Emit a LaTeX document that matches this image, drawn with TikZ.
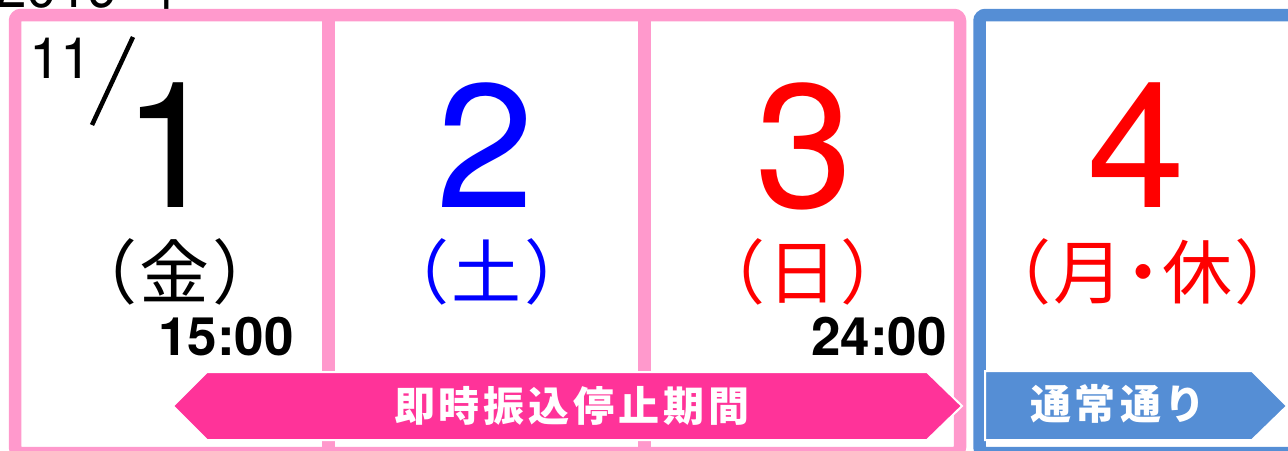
\documentclass[tikz,border=0pt]{standalone}
\usepackage{fontspec}
\setmainfont{TeX Gyre Heros}
\newfontfamily\jpfont[RawFeature={+palt}]{Noto Sans CJK JP}
\newfontfamily\bandfont{Noto Sans CJK JP}
\usetikzlibrary{positioning}
\definecolor{framepink}{HTML}{FF99CC}
\definecolor{arrowpink}{HTML}{FF3399}
\definecolor{calblue}{HTML}{558ED5}
\definecolor{dayblue}{HTML}{0000FF}
\definecolor{dayred}{HTML}{FF0000}
\newcommand{\pgap}{\hspace{5pt}}
\newcommand{\lgap}{\hspace{4pt}}

\begin{document}
\begin{tikzpicture}[x=1pt,y=-1pt,
	frame/.style={line width=12.5pt,rounded corners=6pt},
	divider/.style={line width=13pt,framepink},
	band/.style={draw=white,line width=2pt},
	bigday/.style={anchor=base,inner sep=0pt,font=\fontsize{176}{176}\selectfont},
	weekday/.style={anchor=base,inner sep=0pt,font=\jpfont\fontsize{70}{70}\selectfont},
	clock/.style={anchor=base east,inner sep=0pt,font=\bfseries\fontsize{53}{53}\selectfont},
	bandtext/.style={anchor=base,inner sep=0pt,text=white,font=\bandfont\bfseries\fontsize{41}{41}\selectfont}]
	\useasboundingbox (0,0) rectangle (1288,450);
	\clip (0,0) rectangle (1288,450);

	%% year, cut off at the top
	\node[anchor=base west,inner sep=0pt,font=\fontsize{55}{55}\selectfont] (year) at (-4,7) {2019\hspace{18pt}{\jpfont 年}};

	%% frames
	\draw[frame,framepink] (15,15) rectangle (960,453);
	\draw[divider] (328.5,15) -- (328.5,453);
	\draw[divider] (644.5,15) -- (644.5,453);
	\draw[frame,calblue] (979.5,15) rectangle (1310,453);

	%% bands
	\filldraw[band,fill=arrowpink] (207,372) -- (927,372) -- (962,406) -- (927,440) -- (207,440) -- (173,406) -- cycle;
	\filldraw[band,fill=calblue] (985,371) -- (1252,371) -- (1287,406) -- (1252,440) -- (985,440) -- cycle;
	\node[bandtext] (stop) at (572,421) {即\lgap 時\lgap 振\lgap 込\lgap 停\lgap 止\lgap 期\lgap 間};
	\node[bandtext] (normal) at (1118,419) {通\lgap 常\lgap 通\lgap り};

	%% month
	\node[anchor=base west,inner sep=0pt,font=\fontsize{57}{57}\selectfont] (month) at (29,78) {11};
	\coordinate (slashtop) at (133,37);
	\coordinate (slashbot) at (92,125);
	\draw[line width=4.5pt] (slashtop) -- (slashbot);

	%% days
	\node[bigday,anchor=base west] (day1) at (122,207) {1};
	\node[bigday,text=dayblue] (day2) at (485,207) {2};
	\node[bigday,text=dayred] (day3) at (804,207) {3};
	\node[bigday,text=dayred] (day4) at (1136,207) {4};

	\node[weekday] (fri) at (175,298) {（\pgap 金\pgap）};
	\node[weekday,text=dayblue] (sat) at (487,298) {（\pgap 土\pgap）};
	\node[weekday,text=dayred] (sun) at (803,298) {（\pgap 日\pgap）};
	\node[weekday,text=dayred] (mon) at (1143,298) {（\pgap 月\hspace{2pt}・\hspace{2pt}休\pgap）};

	\node[clock] (start) at (294,355) {15:00};
	\node[clock] (end) at (947,355) {24:00};
\end{tikzpicture}
\end{document}
